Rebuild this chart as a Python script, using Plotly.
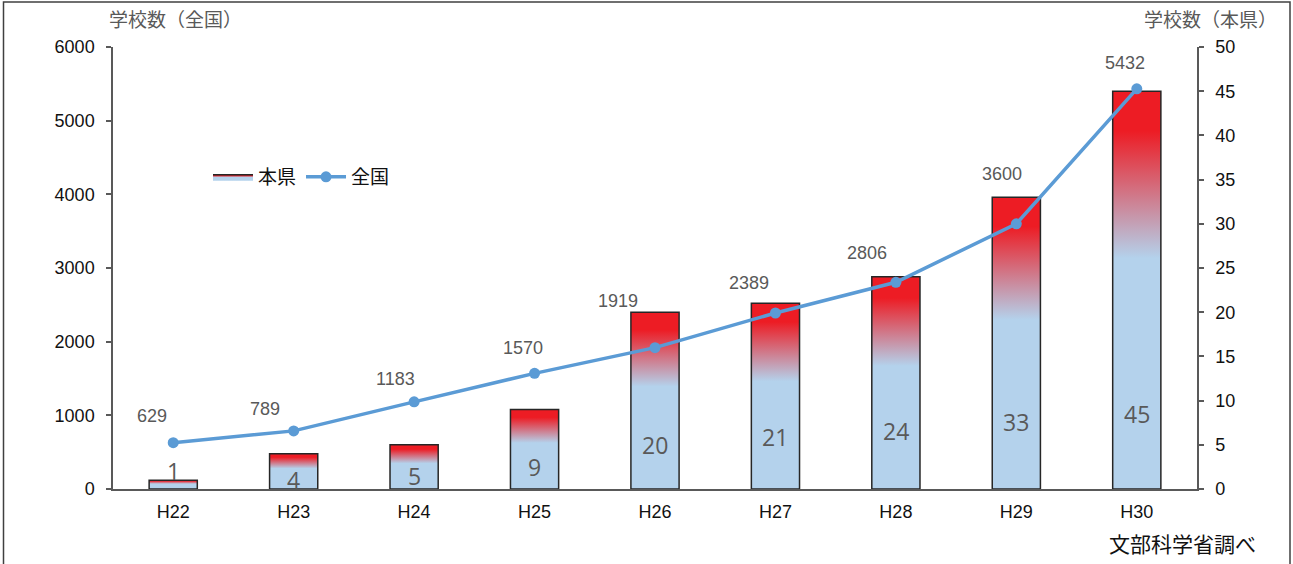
import plotly.graph_objects as go

# 年度ラベル
years = ["H22", "H23", "H24", "H25", "H26", "H27", "H28", "H29", "H30"]
# 本県の学校数（棒・右軸）
pref_counts = [1, 4, 5, 9, 20, 21, 24, 33, 45]
# 全国の学校数（折れ線・左軸）
national_counts = [629, 789, 1183, 1570, 1919, 2389, 2806, 3600, 5432]

# 軸目盛
pref_ticks = list(range(0, 51, 5))
national_ticks = list(range(0, 6001, 1000))

# 全国ラベルのずらし量（px）
nat_label_dx = [-21, -29, -19, -12, -37, -26, -29, -14, -12]
nat_label_dy = [27, 22, 23, 25, 47, 30, 29, 50, 26]
# 本県ラベルの縦位置（右軸の値）
pref_label_y = [2.0, 1.0, 1.5, 2.5, 5.0, 5.9, 6.6, 7.6, 8.5]

RED = "#ED1C24"
BLUE = "#B4D2EC"
LINE_BLUE = "#5B9BD5"
GRAY_TXT = "#595959"
AXIS_GRAY = "#595959"
BAR_HALF = 0.2

grad = dict(
    type="vertical",
    colorscale=[[0.0, BLUE], [0.58, BLUE], [0.9, RED], [1.0, RED]],
)

fig = go.Figure()

# 本県：グラデーション付きの棒（右軸）
for i, v in enumerate(pref_counts):
    fig.add_trace(go.Scatter(
        x=[i - BAR_HALF, i + BAR_HALF, i + BAR_HALF, i - BAR_HALF, i - BAR_HALF],
        y=[0, 0, v, v, 0],
        mode="lines",
        fill="toself",
        fillgradient=grad,
        line=dict(color="#262626", width=1.5),
        name="本県",
        legendgroup="pref",
        showlegend=(i == 0),
        hoverinfo="skip",
        yaxis="y",
    ))

# 全国：折れ線（左軸）
fig.add_trace(go.Scatter(
    x=list(range(len(years))),
    y=national_counts,
    mode="lines+markers",
    line=dict(color=LINE_BLUE, width=3.5),
    marker=dict(color=LINE_BLUE, size=11),
    name="全国",
    yaxis="y2",
))

annotations = []
for i, v in enumerate(national_counts):
    annotations.append(dict(
        x=i, y=v, xref="x", yref="y2", text=str(v), showarrow=False,
        xshift=nat_label_dx[i], yshift=nat_label_dy[i],
        font=dict(family="Liberation Sans, Arial", size=18, color=GRAY_TXT),
    ))
for i, v in enumerate(pref_counts):
    annotations.append(dict(
        x=i, y=pref_label_y[i], xref="x", yref="y", text=str(v), showarrow=False,
        yanchor="middle",
        font=dict(family="Open Sans, Noto Sans", size=23, color=GRAY_TXT),
    ))

L, R, T, B = 113, 96, 47, 75
W, H = 1293, 564
pw, ph = W - L - R, H - T - B


def px_x(p):
    return (p - L) / pw


def px_y(p):
    return (H - B - p) / ph


cjk = "Noto Sans CJK JP"
annotations += [
    dict(x=px_x(175), y=px_y(18), xref="paper", yref="paper", text="学校数（全国）",
         showarrow=False, xanchor="center", yanchor="middle",
         font=dict(family=cjk, size=19, color=GRAY_TXT)),
    dict(x=px_x(1210), y=px_y(18), xref="paper", yref="paper", text="学校数（本県）",
         showarrow=False, xanchor="center", yanchor="middle",
         font=dict(family=cjk, size=19, color=GRAY_TXT)),
    dict(x=px_x(1182), y=px_y(543), xref="paper", yref="paper", text="文部科学省調べ",
         showarrow=False, xanchor="center", yanchor="middle",
         font=dict(family=cjk, size=21, color="#111111")),
]

fig.update_layout(
    width=W, height=H,
    margin=dict(l=L, r=R, t=T, b=B),
    paper_bgcolor="white",
    plot_bgcolor="white",
    showlegend=True,
    legend=dict(
        orientation="h", x=px_x(208), y=px_y(177), xanchor="left", yanchor="middle",
        font=dict(family=cjk, size=19, color="#111111"),
        bgcolor="rgba(0,0,0,0)", itemwidth=40, tracegroupgap=0,
    ),
    xaxis=dict(
        range=[-0.5, len(years) - 0.5],
        tickvals=list(range(len(years))), ticktext=years,
        showgrid=False, zeroline=False,
        showline=True, linecolor=AXIS_GRAY, linewidth=1.5,
        ticks="", ticklabelstandoff=6,
        tickfont=dict(family="Liberation Sans, Arial", size=18, color="#111111"),
    ),
    yaxis=dict(
        side="right", range=[0, 50], tickvals=pref_ticks,
        showgrid=False, zeroline=False,
        showline=True, linecolor=AXIS_GRAY, linewidth=1.5,
        ticks="outside", ticklen=5, tickcolor=AXIS_GRAY, tickwidth=1.5,
        ticklabelstandoff=8,
        tickfont=dict(family="Liberation Sans, Arial", size=18, color="#111111"),
    ),
    yaxis2=dict(
        side="left", overlaying="y", range=[0, 6000], tickvals=national_ticks,
        showgrid=False, zeroline=False,
        showline=True, linecolor=AXIS_GRAY, linewidth=1.5,
        ticks="outside", ticklen=5, tickcolor=AXIS_GRAY, tickwidth=1.5,
        ticklabelstandoff=8,
        tickfont=dict(family="Liberation Sans, Arial", size=18, color="#111111"),
    ),
    annotations=annotations,
    shapes=[dict(
        type="rect", xref="paper", yref="paper",
        x0=px_x(3.5), x1=px_x(1290), y0=px_y(600), y1=px_y(2),
        line=dict(color="#404040", width=1.5), fillcolor="rgba(0,0,0,0)", layer="below",
    )],
)

fig.write_html("out.html")
